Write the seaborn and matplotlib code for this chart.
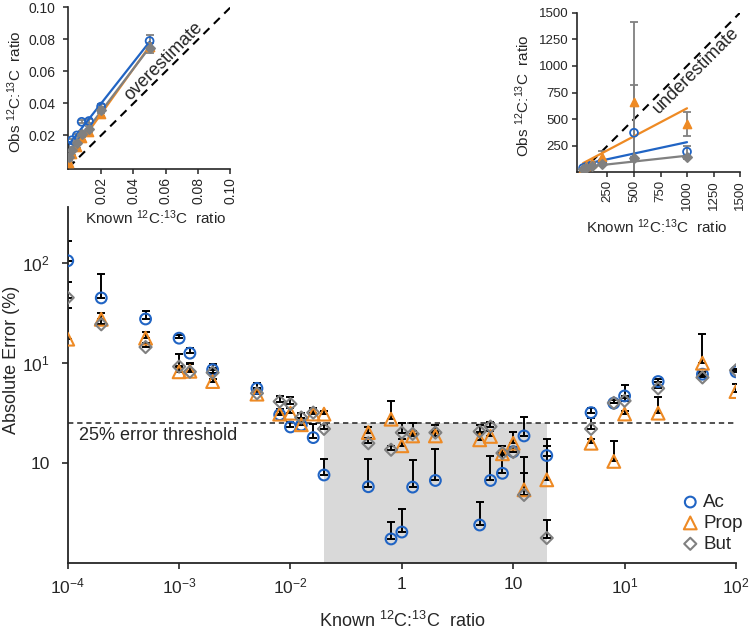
"""
Accuracy of measured 12C:13C ratios for acetate, propionate and butyrate.

Main panel: absolute error vs known ratio (log-log), with two insets showing
observed vs known ratios at the low and high ends.
"""

import matplotlib

matplotlib.use("Agg")

import matplotlib.pyplot as plt
import seaborn as sns
import numpy as np

# ---------------------------------------------------------------------------
# Main panel data (absolute error, upper error bar)
# ---------------------------------------------------------------------------
KNOWN = [1e-4, 2e-4, 5e-4, 1e-3, 1.25e-3, 2e-3, 5e-3, 8e-3, 1e-2, 1.25e-2,
         1.6e-2, 2e-2, 5e-2, 8e-2, 0.1, 0.125, 0.2, 0.5, 0.625, 0.8, 1, 1.25,
         2, 5, 8, 10, 20, 50, 100]

AC = [106, 45, 27.7, 17.8, 12.6, 8.6, 5.6, 3.05, 2.3, 2.4, 1.8, 0.76, 0.58,
      0.174, 0.204, 0.575, 0.67, 0.24, 0.67, 0.79, 1.3, 1.87, 1.19, 3.2, 3.98,
      4.7, 6.55, 7.76, 8.2]
AC_SD = [60, 34, 5.3, 1.5, 1.5, 1.2, 0.8, 0.25, 0.3, 0.2, 0.65, 0.34, 0.52,
         0.086, 0.146, 0.5, 0.71, 0.17, 0.52, 0.42, 0.15, 1.05, 0.55, 0.35,
         0.32, 1.37, 0.35, 0.44, 0.5]

PROP = [17.4, 27.5, 17.8, 8.2, 8.3, 6.55, 4.9, 3.09, 3.16, 2.42, 3.1, 3.09,
        2.02, 2.75, 1.49, 1.87, 1.87, 1.71, 1.85, 1.24, 1.58, 0.54, 0.68, 1.58,
        1.04, 3.1, 3.16, 10, 5.2]
PROP_SD = [18.6, 4.1, 2.7, 1.1, 1.5, 0.45, 0.5, 0.41, 0.44, 0.38, 0.5, 0.26,
           0.27, 1.45, 0.26, 0.23, 0.23, 0.24, 0.25, 0.25, 0.49, 0.6, 0.79,
           0.17, 0.64, 0.25, 1.41, 9.6, 1.0]

BUT = [45.3, 24.5, 14.5, 9.25, 8.2, 8.05, 5.0, 4.13, 3.9, 2.86, 3.2, 2.2,
       1.58, 1.36, 2.02, 1.96, 2.02, 2.07, 2.32, 1.26, 1.29, 0.48, 0.178, 2.2,
       4.0, 4.2, 5.6, 7.2, 8.5]
BUT_SD = [20.3, 3.5, 1.5, 3.15, 1.8, 0.95, 0.6, 0.57, 0.67, 0.3, 0.4, 0.2,
          0.22, 0.13, 0.48, 0.54, 0.38, 0.33, 0.28, 0.23, 0.16, 0.32, 0.092,
          0.62, 0.3, 0.3, 0.4, 0.5, 0.3]

THRESHOLD = 2.5
SHADE_X = [0.02, 2]

XTICKS = [1e-4, 1e-3, 1e-2, 1e-1, 1, 10, 100]
XTICK_LABELS = [r"$10^{-4}$", r"$10^{-3}$", r"$10^{-2}$", "1", "10",
                r"$10^{1}$", r"$10^{2}$"]
YTICKS = [1, 10, 100]
YTICK_LABELS = ["10", r"$10^{1}$", r"$10^{2}$"]

# ---------------------------------------------------------------------------
# Inset data: observed vs known ratio
# ---------------------------------------------------------------------------
LOW_KNOWN = [0.0001, 0.002, 0.005, 0.008, 0.0125, 0.02, 0.05]
LOW_AC = [0.0135, 0.017, 0.020, 0.0285, 0.029, 0.038, 0.079]
LOW_AC_SD = [0.001, 0.001, 0.001, 0.001, 0.0015, 0.0015, 0.004]
LOW_PROP = [0.003, 0.0085, 0.013, 0.0185, 0.022, 0.0335, 0.0755]
LOW_PROP_SD = [0.001, 0.001, 0.001, 0.0015, 0.0015, 0.0015, 0.002]
LOW_BUT = [0.0068, 0.011, 0.0155, 0.021, 0.024, 0.036, 0.0745]
LOW_BUT_SD = [0.001, 0.001, 0.0015, 0.002, 0.002, 0.002, 0.003]

HIGH_KNOWN = [20, 50, 100, 200, 500, 1000]
HIGH_AC = [40, 52, 65, 95, 372, 194]
HIGH_AC_SD = [5, 5, 8, 10, 450, 55]
HIGH_PROP = [30, 55, 90, 147, 663, 454]
HIGH_PROP_SD = [5, 8, 10, 50, 750, 115]
HIGH_BUT = [30, 45, 60, 80, 131, 140]
HIGH_BUT_SD = [3, 5, 5, 8, 15, 15]

BLUE = "#2064c4"
ORANGE = "#ee8a24"
GRAY = "#808080"

RATIO = r"$^{12}$C:$^{13}$C"

sns.set_style("ticks")
plt.rcParams["font.family"] = ["Liberation Sans", "DejaVu Sans"]
plt.rcParams["mathtext.fontset"] = "custom"
plt.rcParams["mathtext.rm"] = "Liberation Sans"
plt.rcParams["mathtext.it"] = "Liberation Sans:italic"
plt.rcParams["mathtext.bf"] = "Liberation Sans:bold"

fig = plt.figure(figsize=(7.5, 6.34), dpi=100)

# --- main panel ---
ax = fig.add_axes([0.0903, 0.112, 0.891, 0.5615])
ax.set_xscale("log")
ax.set_yscale("log")

ax.fill_between(SHADE_X, 0.1, THRESHOLD, color="#d9d9d9", lw=0, zorder=0)
ax.axhline(THRESHOLD, color="#222222", ls=(0, (3.5, 2.5)), lw=1.1, zorder=1)
ax.text(1.25e-4, 1.88, "25% error threshold", fontsize=13, va="center",
        ha="left")

main_series = [
    ("Ac", AC, AC_SD, "o", BLUE, 60),
    ("Prop", PROP, PROP_SD, "^", ORANGE, 85),
    ("But", BUT, BUT_SD, "D", GRAY, 38),
]
for name, vals, sd, marker, color, size in main_series:
    ax.errorbar(KNOWN, vals, yerr=[np.zeros(len(sd)), sd], fmt="none",
                ecolor="black", elinewidth=1.4, capsize=3.2, capthick=1.4,
                zorder=2)
for name, vals, sd, marker, color, size in main_series:
    sns.scatterplot(x=KNOWN, y=vals, marker=marker, s=size, color=color,
                    facecolor="none", edgecolor=color, linewidth=1.5,
                    label=name, ax=ax, zorder=3)

ax.set_xlim(1e-4, 1e2)
ax.set_ylim(0.1, 366)
ax.set_xticks(XTICKS, XTICK_LABELS)
ax.set_yticks(YTICKS, YTICK_LABELS)
ax.minorticks_off()
ax.tick_params(axis="both", labelsize=12.5, length=4, width=1.2)
ax.tick_params(axis="x", pad=6)
ax.tick_params(axis="y", pad=9)
for side in ["left", "bottom"]:
    ax.spines[side].set_linewidth(1.3)
sns.despine(ax=ax)

ax.set_xlabel(f"Known {RATIO}  ratio", fontsize=13)
ax.xaxis.set_label_coords(0.5, -0.163)
ax.xaxis.label.set_va("center")
ax.set_ylabel("Absolute Error (%)", fontsize=13)
ax.yaxis.set_label_coords(-0.084, 0.57)
ax.yaxis.label.set_va("center")

ax.legend(loc="lower right", bbox_to_anchor=(1.03, -0.008), frameon=False,
          fontsize=13.5, handletextpad=0.1, labelspacing=0.2,
          handlelength=1.2, borderpad=0.2)

# --- insets ---
def draw_inset(rect, known, series, lim, ticks, tick_labels, note, note_xy,
               ylabel_x, xlabel_xy, tick_size, ypad):
    iax = fig.add_axes(rect)
    iax.plot(lim, lim, color="black", ls=(0, (4, 3)), lw=1.5, zorder=1)
    for vals, sd, marker, color, filled, size in series:
        iax.errorbar(known, vals, yerr=sd, fmt="none", ecolor=GRAY,
                     elinewidth=1.3, capsize=3.2, capthick=1.3, zorder=2)
        sns.regplot(x=known, y=vals, scatter=False, ci=None, color=color,
                    line_kws={"lw": 1.6}, ax=iax)
        sns.scatterplot(x=known, y=vals, marker=marker, s=size, color=color,
                        facecolor=color if filled else "none",
                        edgecolor=color, linewidth=1.3, ax=iax, zorder=3)
    iax.text(note_xy[0], note_xy[1], note, rotation=45, fontsize=13,
             ha="center", va="center", rotation_mode="anchor")
    iax.set_xticks(ticks, tick_labels)
    iax.set_yticks(ticks, tick_labels)
    iax.tick_params(axis="both", labelsize=tick_size, length=3.5, width=1.1)
    iax.tick_params(axis="x", labelrotation=90, pad=2)
    iax.tick_params(axis="y", pad=ypad)
    for side in ["left", "bottom"]:
        iax.spines[side].set_linewidth(1.2)
    sns.despine(ax=iax)
    iax.set_xlabel(f"Known {RATIO}  ratio", fontsize=11)
    iax.xaxis.set_label_coords(*xlabel_xy)
    iax.xaxis.label.set_va("center")
    iax.set_ylabel(f"Obs {RATIO}  ratio", fontsize=11)
    iax.yaxis.set_label_coords(ylabel_x, 0.48)
    iax.yaxis.label.set_va("center")
    return iax


low_ticks = [0.02, 0.04, 0.06, 0.08, 0.10]
ax1 = draw_inset(
    [0.0912, 0.7334, 0.2161, 0.2550], LOW_KNOWN,
    [(LOW_AC, LOW_AC_SD, "o", BLUE, False, 32),
     (LOW_PROP, LOW_PROP_SD, "^", ORANGE, True, 32),
     (LOW_BUT, LOW_BUT_SD, "D", GRAY, True, 22)],
    [0, 0.10], low_ticks, [f"{t:.2f}" for t in low_ticks],
    "overestimate", (0.0586, 0.0664), -0.33, (0.54, -0.30), 10, 6)
ax1.set_ylim(-0.001, 0.10)
ax1.set_xlim(-0.0002, 0.10)

high_ticks = [250, 500, 750, 1000, 1250, 1500]
ax2 = draw_inset(
    [0.769, 0.7282, 0.2177, 0.2517], HIGH_KNOWN,
    [(HIGH_AC, HIGH_AC_SD, "o", BLUE, False, 32),
     (HIGH_PROP, HIGH_PROP_SD, "^", ORANGE, True, 32),
     (HIGH_BUT, HIGH_BUT_SD, "D", GRAY, True, 22)],
    [0, 1500], high_ticks, [str(t) for t in high_ticks],
    "underestimate", (1090, 960), -0.33, (0.49, -0.343), 9.5, 2.5)
ax2.set_xlim(-40, 1500)
ax2.set_ylim(0, 1500)

fig.savefig("out.png", dpi=100)
plt.close("all")
